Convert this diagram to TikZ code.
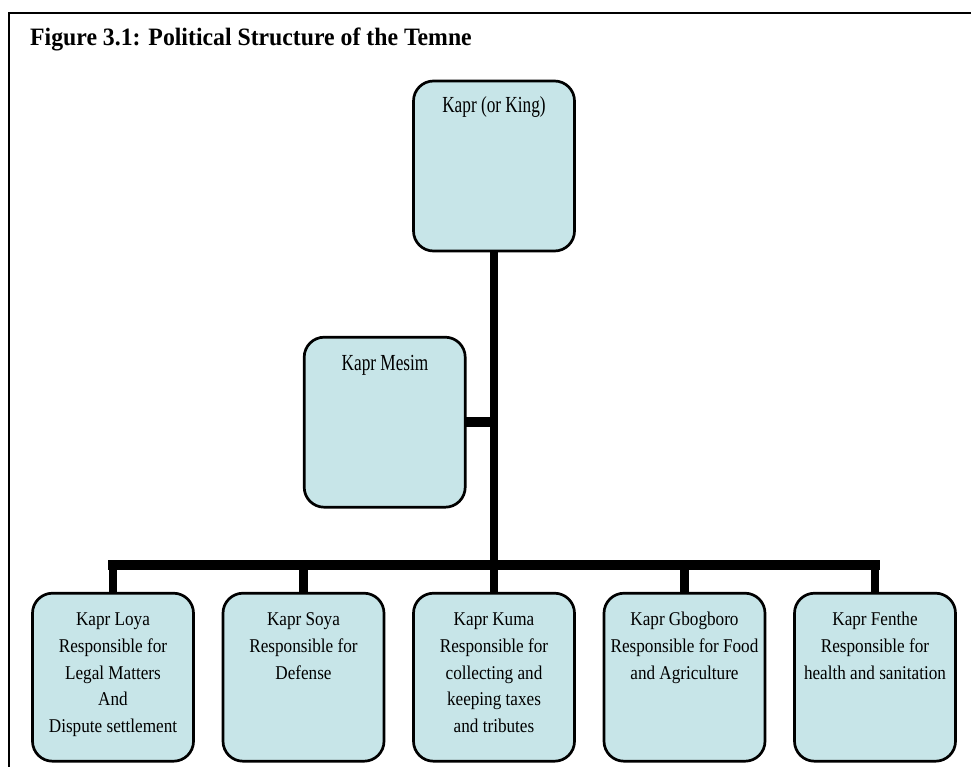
\documentclass[tikz,border=0pt]{standalone}
\usepackage{fontspec}
\usetikzlibrary{backgrounds}
\setmainfont{Liberation Serif}
\newfontfamily\topfont[FakeStretch=0.75]{Liberation Serif}
\newfontfamily\botfont[FakeStretch=0.88]{Liberation Serif}
\newfontfamily\titlefont[FakeStretch=0.95]{Liberation Serif}
\definecolor{boxfill}{RGB}{199,229,232}
\begin{document}
\begin{tikzpicture}[x=1pt,y=-1pt,
  orgbox/.style={draw=black, line width=2.7pt, fill=boxfill, rounded corners=20pt,
    minimum width=161pt, inner sep=0pt, outer sep=0pt},
  topbox/.style={orgbox, minimum height=170pt},
  botbox/.style={orgbox, minimum height=168pt},
  toptext/.style={font=\topfont\fontsize{23}{27}\selectfont, anchor=base, inner sep=0pt, align=center},
  bottext/.style={font=\botfont\fontsize{19.5}{26.7}\selectfont, anchor=north, inner sep=0pt, align=center},
  trunk/.style={line width=8.5pt},
  bus/.style={line width=10pt, line cap=rect},
  frame/.style={line width=2.2pt, draw=black}]
\useasboundingbox (0,0) rectangle (971,767);
% frame
\coordinate (fbl) at (9,767);
\coordinate (ftl) at (9,13);
\coordinate (ftr) at (971,13);
\draw[frame] (fbl) -- (ftl) -- (ftr);
% title
\node[font=\titlefont\bfseries\fontsize{25}{29}\selectfont, anchor=base west, inner sep=0pt] (title) at (30,46) {Figure 3.1: Political Structure of the Temne};
% top boxes
\node[topbox] (king) at (494,166) {};
\node[topbox] (mesim) at (384.7,422.2) {};
% bottom boxes
\node[botbox] (loya) at (113,677.2) {};
\node[botbox] (soya) at (303.5,677.2) {};
\node[botbox] (kuma) at (494,677.2) {};
\node[botbox] (gbog) at (684.5,677.2) {};
\node[botbox] (fenthe) at (875,677.2) {};
% connector coordinates
\coordinate (busC) at (494,565);
\coordinate (mj) at (494,422);
\begin{scope}[on background layer]
\draw[trunk] (king.south) -- (busC);
\draw[line width=9.5pt] (mesim.east |- mj) -- (mj);
\draw[bus] (loya.north |- busC) -- (fenthe.north |- busC);
\foreach \b in {loya,soya,kuma,gbog,fenthe}{
  \draw[trunk] (\b.north |- busC) -- (\b.north);
}
\end{scope}
% texts
\node[toptext] (kingT) at (494,113) {Kapr (or King)};
\node[toptext] (mesimT) at (385,370) {Kapr Mesim};
\node[bottext] (loyaT) at (113,607) {\strut Kapr Loya\\Responsible for\\Legal Matters\\And\\Dispute settlement};
\node[bottext] (soyaT) at (303.5,607) {\strut Kapr Soya\\Responsible for\\Defense};
\node[bottext] (kumaT) at (494,607) {\strut Kapr Kuma\\Responsible for\\collecting and\\keeping taxes\\and tributes};
\node[bottext] (gbogT) at (684.5,607) {\strut Kapr Gbogboro\\Responsible for Food\\and Agriculture};
\node[bottext] (fentheT) at (875,607) {\strut Kapr Fenthe\\Responsible for\\health and sanitation};
\end{tikzpicture}
\end{document}
